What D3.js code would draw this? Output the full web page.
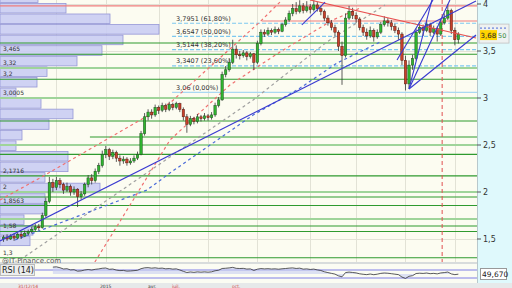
<!DOCTYPE html>
<html>
<head>
<meta charset="utf-8">
<script src="https://cdn.jsdelivr.net/npm/d3@7"></script>
<style>
  html, body { margin: 0; padding: 0; background: #fff; }
  svg { display: block; font-family: "DejaVu Sans", sans-serif; }
</style>
</head>
<body>
<script>
// candles [open, high, low, close]
const candles = [
  [1.50,1.54,1.47,1.52],[1.52,1.55,1.48,1.50],[1.50,1.55,1.49,1.53],[1.53,1.56,1.48,1.51],
  [1.51,1.57,1.50,1.55],[1.55,1.58,1.50,1.53],[1.53,1.59,1.52,1.56],[1.56,1.60,1.54,1.58],
  [1.58,1.63,1.56,1.60],[1.60,1.66,1.58,1.63],[1.63,1.66,1.59,1.62],[1.62,1.78,1.61,1.75],
  [1.75,1.94,1.73,1.90],[1.90,2.16,1.88,2.10],[2.10,2.14,2.00,2.05],[2.05,2.16,2.02,2.12],
  [2.12,2.15,2.04,2.08],[2.08,2.10,1.98,2.02],[2.02,2.10,2.00,2.06],[2.06,2.08,1.96,2.00],
  [2.00,2.06,1.97,2.03],[2.03,2.04,1.84,1.95],[1.95,2.01,1.92,1.98],[1.98,2.10,1.96,2.08],
  [2.08,2.18,2.05,2.15],[2.15,2.19,2.08,2.12],[2.12,2.25,2.10,2.22],[2.22,2.31,2.19,2.28],
  [2.28,2.44,2.26,2.40],[2.40,2.49,2.36,2.45],[2.45,2.47,2.34,2.38],[2.38,2.45,2.35,2.42],
  [2.42,2.44,2.32,2.36],[2.36,2.39,2.28,2.33],[2.33,2.38,2.30,2.35],[2.35,2.37,2.28,2.31],
  [2.31,2.36,2.29,2.33],[2.33,2.39,2.31,2.36],[2.36,2.43,2.34,2.40],[2.40,2.65,2.39,2.62],
  [2.62,2.84,2.60,2.80],[2.80,2.88,2.76,2.85],[2.85,2.88,2.78,2.82],[2.82,2.93,2.80,2.90],
  [2.90,2.92,2.83,2.87],[2.87,2.95,2.85,2.92],[2.92,2.94,2.85,2.88],[2.88,2.96,2.86,2.93],
  [2.93,2.95,2.87,2.90],[2.90,2.96,2.88,2.94],[2.94,2.95,2.85,2.88],[2.88,2.90,2.76,2.80],
  [2.80,2.83,2.63,2.72],[2.72,2.81,2.70,2.78],[2.78,2.80,2.72,2.75],[2.75,2.83,2.73,2.80],
  [2.80,2.82,2.75,2.78],[2.78,2.84,2.76,2.81],[2.81,2.83,2.76,2.79],[2.79,2.85,2.77,2.82],
  [2.82,2.95,2.80,2.92],[2.92,3.01,2.90,2.98],[2.98,3.28,2.97,3.25],[3.25,3.34,3.22,3.30],
  [3.30,3.42,3.28,3.38],[3.38,3.62,3.36,3.52],[3.52,3.56,3.42,3.46],[3.46,3.50,3.41,3.45],
  [3.45,3.51,3.43,3.48],[3.48,3.50,3.40,3.44],[3.44,3.49,3.42,3.47],[3.47,3.48,3.30,3.38],
  [3.38,3.61,3.36,3.58],[3.58,3.73,3.56,3.70],[3.70,3.73,3.65,3.68],[3.68,3.75,3.66,3.72],
  [3.72,3.74,3.67,3.70],[3.70,3.76,3.68,3.73],[3.73,3.75,3.68,3.71],[3.71,3.80,3.70,3.78],
  [3.78,3.86,3.76,3.83],[3.83,3.93,3.81,3.90],[3.90,4.00,3.87,3.95],[3.95,4.02,3.89,3.92],
  [3.92,4.04,3.90,3.98],[3.98,4.01,3.90,3.93],[3.93,4.03,3.91,3.97],[3.97,4.00,3.90,3.94],
  [3.94,4.04,3.92,3.99],[3.99,4.02,3.92,3.95],[3.95,3.98,3.88,3.92],[3.92,3.94,3.82,3.85],
  [3.85,3.88,3.77,3.80],[3.80,3.83,3.72,3.75],[3.75,3.78,3.66,3.70],[3.70,3.72,3.50,3.55],
  [3.55,3.60,3.14,3.45],[3.45,3.90,3.43,3.85],[3.85,3.98,3.83,3.92],[3.92,3.96,3.84,3.88],
  [3.88,3.91,3.80,3.84],[3.84,3.86,3.72,3.75],[3.75,3.78,3.66,3.70],[3.70,3.74,3.62,3.66],
  [3.66,3.76,3.64,3.72],[3.72,3.74,3.60,3.65],[3.65,3.73,3.63,3.70],[3.70,3.81,3.68,3.78],
  [3.78,3.87,3.76,3.82],[3.82,3.85,3.76,3.80],[3.80,3.83,3.72,3.76],[3.76,3.79,3.69,3.72],
  [3.72,3.75,3.62,3.68],[3.68,3.70,3.35,3.40],[3.40,3.45,3.08,3.15],[3.15,3.40,3.10,3.35],
  [3.35,3.46,3.30,3.42],[3.42,3.74,3.40,3.70],[3.70,3.79,3.68,3.75],[3.75,3.78,3.66,3.72],
  [3.72,3.82,3.70,3.78],[3.78,3.80,3.66,3.70],[3.70,3.77,3.68,3.74],[3.74,3.76,3.60,3.68],
  [3.68,3.84,3.66,3.80],[3.80,3.90,3.78,3.85],[3.85,4.00,3.83,3.93],[3.93,3.95,3.68,3.72],
  [3.72,3.75,3.56,3.62],[3.62,3.70,3.58,3.68]
];

// volume by price (bottom bin first)
const vpLow = 1.424, vpStep = 0.1125;
const vpVolumes = [30,33,24,46,45,100,45,68,68,16,22,49,73,41,16,37,47,77,102,123,159,110,66,38];

// horizontal support / resistance levels
const levelsStrong = [3.585, 3.465, 3.2, 2.755, 2.40, 2.1716, 1.947, 1.8563, 1.638, 1.58, 1.3];
const levelsWeak = [3.32, 3.0005, 2.5, 2.0, 1.713];
const levelsPartial = [[2.585, 24.5]];
const levelTags = [3.465, 3.32, 3.2, 3.0005, 2.1716, 2, 1.8563, 1.58, 1.3];

// fibonacci retracement
const fibPrices = [3.7951, 3.6547, 3.5144, 3.3407, 3.06];
const fibPct = ["61,80%", "50,00%", "38,20%", "23,60%", "0,00%"];
const fibStart = 47.8;

// red horizontals [price, start index]
const redLevels = [[3.979, -1], [3.819, 73.3]];

// trend lines, [index, price] points
const blueLines = [
  [[-1, 1.479], [134, 4.032]],
  [[115, 3.096], [134, 3.670]],
  [[115, 3.096], [121.5, 4.043]],
  [[115, 3.096], [126.6, 4.043]],
  [[111.6, 3.404], [121.8, 4.043]],
  [[84.6, 3.777], [91.2, 4.021]]
];
const redLines = [
  [[86.9, 4.043], [134, 3.638]]
];
const grayDash = [[4.67, 1.277], [47.2, 2.372], [70.8, 2.979], [91.7, 3.596], [108.2, 3.989]];
const blueDash = [[3.25, 1.489], [40.7, 2.021], [47.2, 2.202], [70.8, 2.819], [84.1, 3.106], [94.6, 3.372], [106.8, 3.596]];
const redDash = [
  [[-1, 1.915], [10.3, 2.149], [47.2, 2.947], [72.7, 3.809], [79, 4.043]],
  [[25.9, 1.255], [35.9, 1.862], [47.2, 2.553], [64.2, 3.138], [78.4, 3.489], [93.4, 3.830], [101.1, 3.957]]
];
const markerIdx = 124.4;

const priceTicks = [1.5, 2, 2.5, 3, 3.5, 4];
const gridIdx = [15, 29, 44, 58, 72, 87, 100, 114, 128];
const lastPrice = "3,68";
const rsiLast = "49,670";
const dateTags = [["31/12/14", 18, "#d04040"], ["2015", 100, "#333"], ["avr.", 148, "#333"], ["juil.", 172, "#d04040"], ["oct.", 232, "#d04040"]];

const W = 512, H = 288, plotR = 477, plotB = 262;
const comma = v => String(v).replace('.', ',');

const svg = d3.select('body').append('svg')
  .attr('width', W).attr('height', H);

const x = d3.scaleLinear().domain([-1, 134]).range([0, 476]);
const y = d3.scaleLinear().domain([1.5, 4]).range([239, 4]);
const vx = d3.scaleLinear().domain([0, 160]).range([0, 160]);

svg.append('defs').append('clipPath').attr('id', 'plot')
  .append('rect').attr('width', plotR).attr('height', plotB);

// backgrounds
svg.append('rect').attr('width', W).attr('height', H).attr('fill', '#fcfcf1');
svg.append('rect').attr('x', plotR).attr('width', W - plotR).attr('height', 283).attr('fill', '#dff9fc');
svg.append('line').attr('x1', plotR + 0.5).attr('x2', plotR + 0.5).attr('y1', 0).attr('y2', 283)
  .attr('stroke', '#b8c8cc');

const g = svg.append('g').attr('clip-path', 'url(#plot)');

// grid
g.selectAll('.vg').data(gridIdx).join('line')
  .attr('x1', d => Math.round(x(d)) + 0.5).attr('x2', d => Math.round(x(d)) + 0.5)
  .attr('y1', 0).attr('y2', plotB).attr('stroke', '#e2e2d6');
g.selectAll('.hg').data(priceTicks).join('line')
  .attr('x1', 0).attr('x2', plotR)
  .attr('y1', d => Math.round(y(d)) + 0.5).attr('y2', d => Math.round(y(d)) + 0.5)
  .attr('stroke', '#e2e2d6');

// volume profile
g.selectAll('.vp').data(vpVolumes).join('rect')
  .attr('x', 0)
  .attr('y', (d, k) => y(vpLow + (k + 1) * vpStep) + 0.5)
  .attr('height', (d, k) => y(vpLow + k * vpStep) - y(vpLow + (k + 1) * vpStep) - 1)
  .attr('width', d => vx(d))
  .attr('fill', '#cacdf3').attr('fill-opacity', 0.9)
  .attr('stroke', '#9597d6').attr('stroke-width', 0.8);

// levels
g.selectAll('.lw').data(levelsWeak).join('line')
  .attr('x1', 0).attr('x2', plotR).attr('y1', d => y(d)).attr('y2', d => y(d))
  .attr('stroke', '#9fd49a').attr('stroke-width', 2);
g.selectAll('.ls').data(levelsStrong).join('line')
  .attr('x1', 0).attr('x2', plotR).attr('y1', d => y(d)).attr('y2', d => y(d))
  .attr('stroke', '#2f9a2f').attr('stroke-width', 1.1);
g.selectAll('.lp').data(levelsPartial).join('line')
  .attr('x1', d => x(d[1])).attr('x2', plotR).attr('y1', d => y(d[0])).attr('y2', d => y(d[0]))
  .attr('stroke', '#2f9a2f').attr('stroke-width', 1.1);
g.selectAll('.lt').data(levelTags).join('text')
  .attr('x', 3).attr('y', d => y(d) - 3)
  .attr('font-size', 6).attr('fill', '#333')
  .text(comma);

// fib
g.selectAll('.fb').data(fibPrices).join('line')
  .attr('x1', x(fibStart)).attr('x2', plotR).attr('y1', d => y(d)).attr('y2', d => y(d))
  .attr('stroke', (d, i) => i === fibPrices.length - 1 ? '#a9d8f2' : '#7cc8f0')
  .attr('stroke-width', 1.2)
  .attr('stroke-dasharray', (d, i) => i === fibPrices.length - 1 ? null : '4,2');
g.selectAll('.ft').data(fibPrices).join('text')
  .attr('x', x(fibStart) + 4).attr('y', d => y(d) - 2.5)
  .attr('font-size', 6.5).attr('fill', '#333')
  .text((d, i) => comma(d) + ' (' + fibPct[i] + ')');

// red horizontals
g.selectAll('.rl').data(redLevels).join('line')
  .attr('x1', d => x(d[1])).attr('x2', plotR).attr('y1', d => y(d[0])).attr('y2', d => y(d[0]))
  .attr('stroke', '#ef7d7d').attr('stroke-width', 1.2);

const line = d3.line().x(d => x(d[0])).y(d => y(d[1]));

// dashed channels
g.append('path').attr('d', line(grayDash)).attr('fill', 'none')
  .attr('stroke', '#a0a0a0').attr('stroke-width', 1.2).attr('stroke-dasharray', '3,3');
g.append('path').attr('d', line(blueDash)).attr('fill', 'none')
  .attr('stroke', '#4a6ad8').attr('stroke-width', 1.2).attr('stroke-dasharray', '3,3');
g.selectAll('.rd').data(redDash).join('path').attr('d', line).attr('fill', 'none')
  .attr('stroke', '#f07070').attr('stroke-width', 1.2).attr('stroke-dasharray', '3,3');

// vertical marker
g.append('line').attr('x1', x(markerIdx)).attr('x2', x(markerIdx)).attr('y1', 0).attr('y2', plotB)
  .attr('stroke', '#e05050').attr('stroke-dasharray', '4,3');

// candles
const cw = 2.4;
const cg = g.selectAll('.c').data(candles).join('g');
cg.append('line')
  .attr('x1', (d, i) => x(i)).attr('x2', (d, i) => x(i))
  .attr('y1', d => y(d[1])).attr('y2', d => y(d[2]))
  .attr('stroke', '#333').attr('stroke-width', 0.8);
cg.append('rect')
  .attr('x', (d, i) => x(i) - cw / 2)
  .attr('y', d => y(Math.max(d[0], d[3])))
  .attr('width', cw)
  .attr('height', d => Math.max(1, Math.abs(y(d[0]) - y(d[3]))))
  .attr('fill', d => d[3] >= d[0] ? '#2fb52f' : '#c8402a')
  .attr('stroke', d => d[3] >= d[0] ? '#1d4d1d' : '#5a1a10')
  .attr('stroke-width', 0.5);

// trend lines
g.selectAll('.rt').data(redLines).join('path').attr('d', line).attr('fill', 'none')
  .attr('stroke', '#e85050').attr('stroke-width', 1.1);
g.selectAll('.bt').data(blueLines).join('path').attr('d', line).attr('fill', 'none')
  .attr('stroke', '#3a3ad0').attr('stroke-width', 1.1);

// right axis
svg.selectAll('.tk').data(priceTicks).join('line')
  .attr('x1', plotR).attr('x2', plotR + 4).attr('y1', d => y(d)).attr('y2', d => y(d))
  .attr('stroke', '#555');
svg.selectAll('.tl').data(priceTicks).join('text')
  .attr('x', plotR + 6).attr('y', d => y(d) + 3)
  .attr('font-size', 8).attr('fill', '#333')
  .text(comma);

// last price tag
const yc = y(candles[candles.length - 1][3]);
svg.append('rect').attr('x', 479).attr('y', yc - 10).attr('width', 30).attr('height', 19)
  .attr('fill', '#eef1f1').attr('stroke', '#c0c0c0').attr('stroke-width', 0.8);
svg.append('line').attr('x1', 480).attr('x2', 508).attr('y1', yc - 6).attr('y2', yc - 6)
  .attr('stroke', '#4a6ad8').attr('stroke-dasharray', '2,2');
svg.append('rect').attr('x', 480).attr('y', yc - 4).attr('width', 17).attr('height', 10)
  .attr('fill', '#ffd400');
svg.append('text').attr('x', 480.5).attr('y', yc + 4).attr('font-size', 7).attr('fill', '#222')
  .text(lastPrice);
svg.append('text').attr('x', 498).attr('y', yc + 4).attr('font-size', 6.5).attr('fill', '#3a8a3a')
  .text('50');

// RSI panel
svg.append('rect').attr('x', 0).attr('y', plotB).attr('width', plotR).attr('height', 2).attr('fill', '#d8dcdc');
svg.append('rect').attr('x', 0).attr('y', 264).attr('width', plotR).attr('height', 19).attr('fill', '#fbfcf3');

// watermark
svg.append('text').attr('x', 2).attr('y', 262.5).attr('font-size', 7).attr('fill', '#555')
  .text('@IT-Finance.com');

const closes = candles.map(d => d[3]);
const rsi = [];
let ag = 0, al = 0;
for (let i = 1; i < closes.length; i++) {
  const ch = closes[i] - closes[i - 1];
  const gn = Math.max(ch, 0), ls = Math.max(-ch, 0);
  if (i <= 14) { ag += gn / 14; al += ls / 14; }
  else { ag = (ag * 13 + gn) / 14; al = (al * 13 + ls) / 14; }
  if (i >= 14) rsi.push([i, al === 0 ? 100 : 100 - 100 / (1 + ag / al)]);
}
const ry = d3.scaleLinear().domain([0, 100]).range([284, 264]);
svg.selectAll('.rb').data([30, 70]).join('line')
  .attr('x1', 0).attr('x2', plotR).attr('y1', d => ry(d)).attr('y2', d => ry(d))
  .attr('stroke', '#7f7fe6').attr('stroke-width', 1);
svg.append('path').datum(rsi)
  .attr('d', d3.area().x(d => x(d[0])).y0(ry(50)).y1(d => ry(d[1])))
  .attr('fill', '#c8cdf2').attr('fill-opacity', 0.6);
svg.append('path').datum(rsi)
  .attr('d', d3.line().x(d => x(d[0])).y(d => ry(d[1])))
  .attr('fill', 'none').attr('stroke', '#333').attr('stroke-width', 0.8);
svg.append('rect').attr('x', 0.5).attr('y', 264.5).attr('width', 34).attr('height', 11)
  .attr('fill', '#eceeee').attr('stroke', '#bbb');
svg.append('text').attr('x', 2).attr('y', 273).attr('font-size', 8).attr('fill', '#222')
  .text('RSI (14)');
svg.append('rect').attr('x', 480.5).attr('y', 268.5).attr('width', 26).attr('height', 11)
  .attr('fill', '#fff').attr('stroke', '#999');
svg.append('text').attr('x', 482).attr('y', 277).attr('font-size', 7.5).attr('fill', '#222')
  .text(rsiLast);

// date strip
svg.append('rect').attr('x', 0).attr('y', 283).attr('width', W).attr('height', 5).attr('fill', '#e6e9ea');
svg.selectAll('.dt').data(dateTags).join('text')
  .attr('x', d => d[1]).attr('y', 287.5).attr('font-size', 4.5).attr('fill', d => d[2])
  .text(d => d[0]);
</script>
</body>
</html>
